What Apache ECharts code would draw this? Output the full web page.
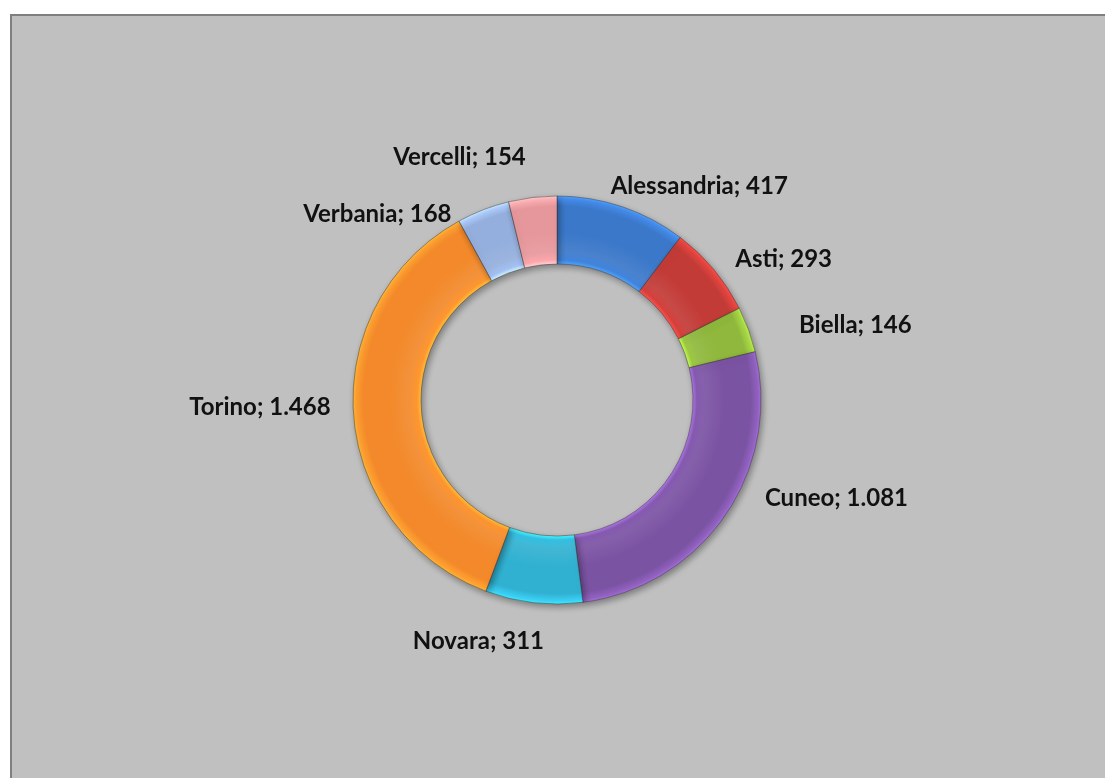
<!DOCTYPE html>
<html>
<head>
<meta charset="utf-8">
<script src="https://cdn.jsdelivr.net/npm/echarts@6/dist/echarts.min.js"></script>
<style>
  html, body { margin: 0; padding: 0; background: #ffffff; overflow: hidden; }
  #chart {
    position: absolute; left: 10px; top: 14px;
    width: 1100px; height: 770px;
    border: 2px solid #7f7f7f;
    background: #c0c0c0;
  }
</style>
</head>
<body>
<div id="chart"></div>
<script>
const provinces = ['Alessandria', 'Asti', 'Biella', 'Cuneo', 'Novara', 'Torino', 'Verbania', 'Vercelli'];
const counts = [417, 293, 146, 1081, 311, 1468, 168, 154];
const sliceColors = ['#3b78c9', '#c33b37', '#8fb83c', '#7b53a3', '#31b1d1', '#f3892a', '#94afdd', '#e6979b'];

// spostamento etichette per avvicinarsi al layout di Excel
const labelShift = {
    Alessandria: [-28, 2], Asti: [-6, 5], Biella: [19, 4], Cuneo: [11, -31],
    Novara: [22, 15], Torino: [10, -9], Verbania: [-14, 27], Vercelli: [5, -16]
};

const CX = 545, CY = 384, R_IN = 136, R_OUT = 204;

// numeri in formato italiano (1.468)
function itNumber(v) {
    return String(v).replace(/\B(?=(\d{3})+(?!\d))/g, '.');
}

// effetto "smussato" con gradiente radiale
function bevel(c) {
    const k = R_IN / R_OUT;
    return {
        type: 'radial', x: CX, y: CY, r: R_OUT, global: true,
        colorStops: [
            { offset: 0, color: c },
            { offset: k, color: echarts.color.lift(c, -0.4) },
            { offset: k + 0.02, color: echarts.color.lift(c, -0.1) },
            { offset: k + 0.06, color: echarts.color.lift(c, 0.08) },
            { offset: 0.82, color: c },
            { offset: 0.95, color: c },
            { offset: 0.985, color: echarts.color.lift(c, -0.18) },
            { offset: 1, color: echarts.color.lift(c, -0.35) }
        ]
    };
}

const chart = echarts.init(document.getElementById('chart'));

chart.setOption({
    backgroundColor: '#c0c0c0',
    animation: false,
    series: [{
        type: 'pie',
        center: [CX, CY],
        radius: [R_IN, R_OUT],
        startAngle: 90,
        clockwise: true,
        avoidLabelOverlap: false,
        labelLayout: { hideOverlap: false },
        itemStyle: {
            borderColor: 'rgba(50,50,50,0.45)',
            borderWidth: 1,
            shadowColor: 'rgba(0,0,0,0.35)',
            shadowBlur: 6,
            shadowOffsetX: 2,
            shadowOffsetY: 3
        },
        label: {
            show: true,
            position: 'outside',
            color: '#111',
            fontFamily: 'Lato',
            fontWeight: 'bold',
            fontSize: 24,
            formatter: (p) => p.name + '; ' + itNumber(p.value)
        },
        labelLine: { show: false, length: 24, length2: 4 },
        data: provinces.map((name, i) => ({
            name: name,
            value: counts[i],
            itemStyle: { color: bevel(sliceColors[i]) },
            label: { offset: labelShift[name] }
        }))
    }]
});
</script>
</body>
</html>
